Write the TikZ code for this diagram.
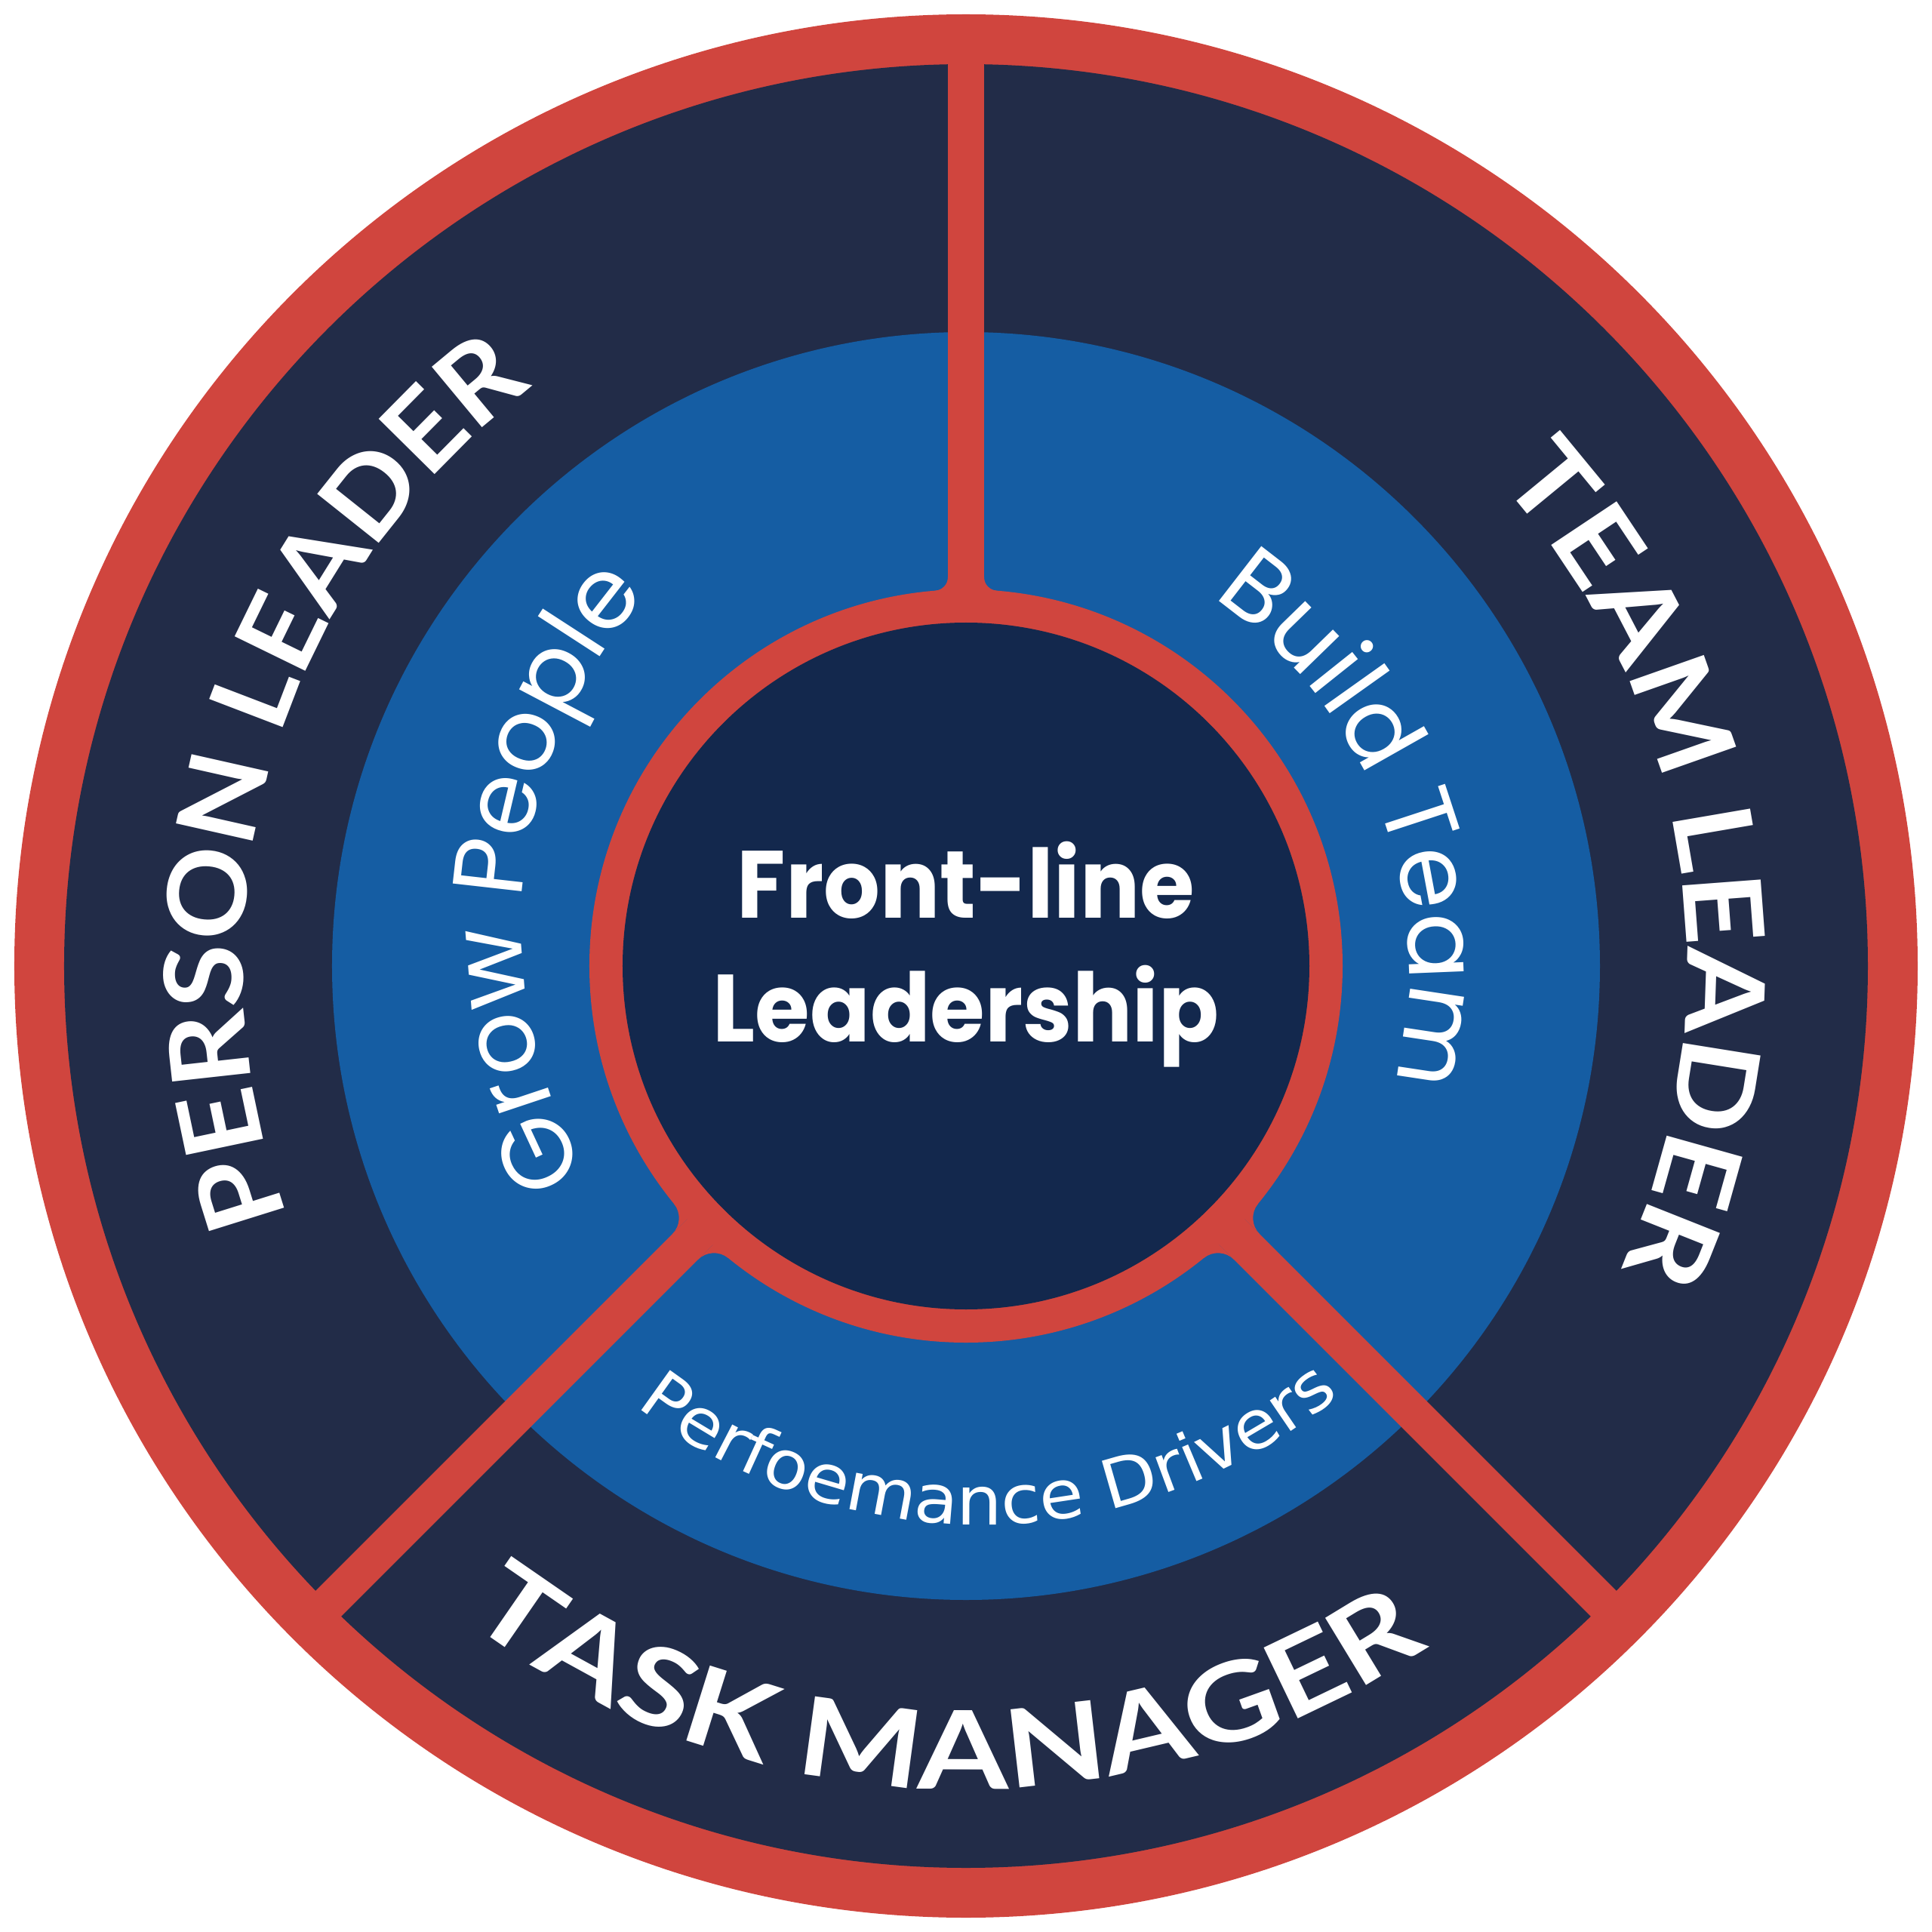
\documentclass[tikz,border=0pt]{standalone}
\usepackage{fontspec}
\setmainfont{Poppins}
\newfontfamily\corefont[FakeStretch=0.93]{Poppins}
\newfontfamily\rolefont{Lato}
\newfontfamily\driverfont[FakeStretch=1.07]{DejaVu Sans}
\usetikzlibrary{decorations.text}
\definecolor{ringred}{HTML}{D0453E}
\definecolor{bandnavy}{HTML}{222C48}
\definecolor{innerblue}{HTML}{155DA3}
\definecolor{corenavy}{HTML}{13284D}

\begin{document}
\begin{tikzpicture}[
    divider/.style={draw=ringred, line width=0.48cm},
    rolelabel/.style 2 args={decorate, decoration={text along path, text align=center, text color=white,
      text={|\rolefont\bfseries\addfontfeatures{FakeStretch=#2}\fontsize{41}{41}\selectfont|#1}}},
    skilllabel/.style={decorate, decoration={text along path, text align=center, text color=white,
      text={|\fontsize{37.5}{37.5}\selectfont|#1}}},
    driverlabel/.style={decorate, decoration={text along path, text align=center, text color=white,
      text={|\driverfont\fontsize{25.5}{25.5}\selectfont|#1}}},
    coretext/.style={text=white, font=\corefont\bfseries\fontsize{36}{36}\selectfont, anchor=base, inner sep=0pt}
  ]
  \useasboundingbox (-12.8,-12.8) rectangle (12.8,12.8);

  % rings
  \fill[ringred] (0,0) circle (12.61);
  \fill[bandnavy] (0,0) circle (11.95);
  \fill[innerblue] (0,0) circle (8.4);

  % dividers
  \coordinate (hub) at (0,0);
  \foreach \a/\n in {90/top,225/left,315/right}
    \coordinate (rim-\n) at (\a:11.99);
  \foreach \n in {top,left,right}
    \draw[divider] (hub) -- (rim-\n);

  \fill[ringred] (hub) circle (4.99);

  % fillets where the dividers meet the ring
  \foreach \a/\f in {90/0.18,225/0.3,315/0.3}
    \foreach \s in {1,-1}
    {
      \begin{scope}[rotate=\a-90, xscale=\s]
        \pgfmathsetmacro\yc{sqrt((4.99+\f)^2-(0.24+\f)^2)}
        \pgfmathsetmacro\ta{atan2(-\yc,-(0.24+\f))+360}
        \pgfmathsetmacro\tx{(0.24+\f)*4.99/(4.99+\f)}
        \pgfmathsetmacro\ty{\yc*4.99/(4.99+\f)}
        \fill[ringred] (0.24,\yc) -- (0.24,4.7) -- (\tx+0.05,4.7) -- (\tx,\ty)
          arc[start angle=\ta, end angle=180, radius=\f] -- cycle;
      \end{scope}
    }

  \fill[corenavy] (hub) circle (4.55);

  % outer band
  \path[rolelabel={PERSON LEADER}{1.07}] (233.5:9.58) arc[start angle=233.5, end angle=93.5, radius=9.58];
  \path[rolelabel={TEAM LEADER}{1.14}] (78.8:9.55) arc[start angle=78.8, end angle=-61.2, radius=9.55];
  \path[rolelabel={TASK MANAGER}{1.21}] (198.4:10.9) arc[start angle=198.4, end angle=338.4, radius=10.9];

  % inner band
  \path[skilllabel={Grow People}, shift={(0.79,0.52)}] (244:6.68) arc[start angle=244, end angle=104, radius=6.68];
  \path[skilllabel={Build Team}] (90.5:5.87) arc[start angle=90.5, end angle=-49.5, radius=5.87];
  \path[driverlabel={Perfoemance Drivers}, shift={(0.2,0.05)}] (200.9:7.45) arc[start angle=200.9, end angle=340.9, radius=7.45];

  % centre
  \node[coretext] (front) at (0,0.64) {Front-line};
  \node[coretext] (lead) at (0,-1.0) {Leadership};
\end{tikzpicture}
\end{document}
